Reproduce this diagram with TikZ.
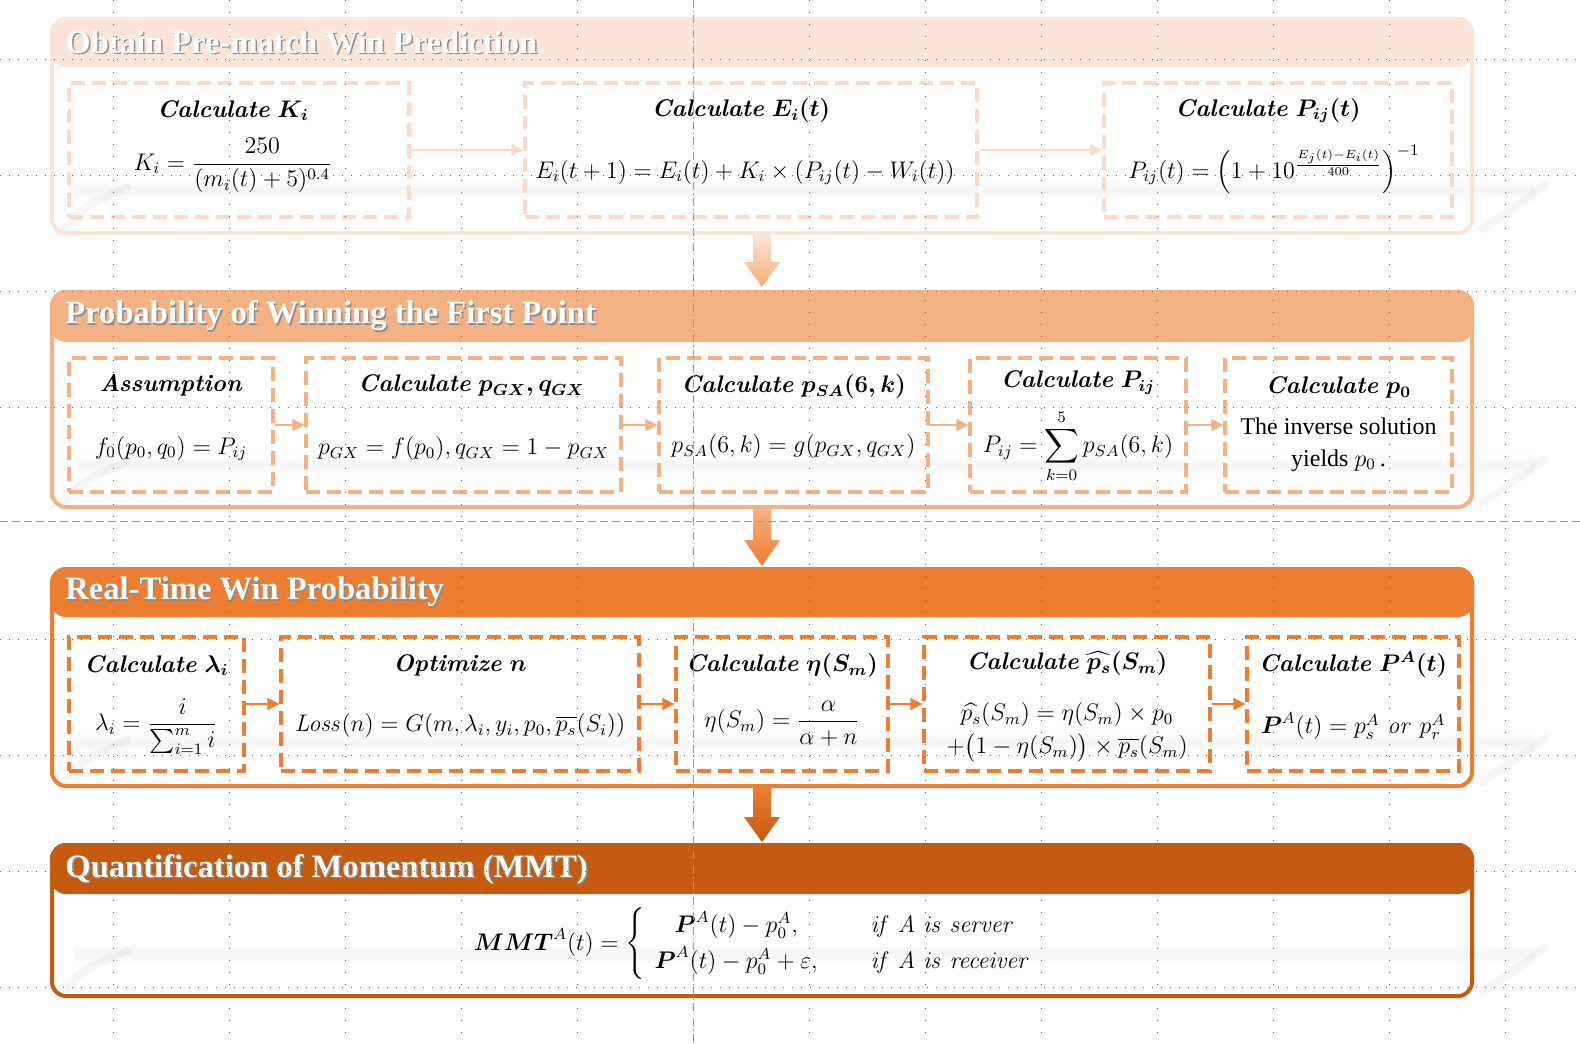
\documentclass[tikz,border=0pt]{standalone}
\usepackage{amsmath,amssymb}
\usepackage[no-math]{fontspec}
\newfontfamily\timesfont{Liberation Serif}
\usetikzlibrary{fit,calc,arrows.meta}

\definecolor{cA}{HTML}{FBE5D6}
\definecolor{cAb}{HTML}{F9DBC8}
\definecolor{cB}{HTML}{F4B183}
\definecolor{cC}{HTML}{ED7D31}
\definecolor{cD}{HTML}{C55A11}
\definecolor{guide}{HTML}{9A9A9A}

\begin{document}
\begin{tikzpicture}[x=0.5pt,y=-0.5pt,
  panel/.style={draw, line width=2pt, rounded corners=7pt, inner sep=0pt},
  hdr/.style={line width=2pt, rounded corners=7pt, inner sep=0pt},
  dbox/.style={draw, line width=1.6pt, dash pattern=on 7pt off 3.5pt, inner sep=0pt},
  ttl/.style={anchor=west, font=\timesfont\bfseries\fontsize{16.3}{19}\selectfont, text=white, inner sep=0pt},
  shd/.style={anchor=west, font=\timesfont\bfseries\fontsize{16.3}{19}\selectfont, text=black!45, inner sep=0pt},
  hd/.style={font=\fontsize{12}{14.4}\selectfont, inner sep=0pt},
  fm/.style={font=\fontsize{12}{14.4}\selectfont, inner sep=0pt, align=center},
  arr/.style={line width=0.8pt, -{Triangle[length=6pt,width=6pt]}},
  hdot/.style={black!60, line width=0.5pt, dash pattern=on 0.5pt off 4pt},
  vdot/.style={black!60, line width=0.5pt, dash pattern=on 0.5pt off 5.5pt},
  pshadow/.style={black, opacity=0.035, line width=4pt, line cap=round},
]
\useasboundingbox (0,0) rectangle (1580,1044);
\fill[white] (0,0) rectangle (1580,1044);

% ================= soft shadows under the panels
\foreach \bt in {233,507,786,996}{
  \shade[top color=white, bottom color=white, middle color=black!3.5] (75,\bt-56) rectangle (1535,\bt-30);
  \draw[pshadow] (64,\bt-4) .. controls (82,\bt-26) .. (128,\bt-46);
  \draw[pshadow] (1482,\bt-4) .. controls (1512,\bt-24) .. (1545,\bt-48);
}

% ================= Panel 1
\node[hdr, fill=cA, draw=cA, fit={(52,19) (1472,65)}] (hd1) {};
\node[panel, draw=cA, fit={(52,19) (1472,233)}] (p1) {};
\node[shd] (t1s) at (66.5,43.5) {Obtain Pre-match Win Prediction};
\node[ttl] (t1) at (65,42) {Obtain Pre-match Win Prediction};

\node[dbox, draw=cAb, fit={(69,83) (409,217)}] (b11) {};
\node[dbox, draw=cAb, fit={(525,83) (977,217)}] (b12) {};
\node[dbox, draw=cAb, fit={(1104,83) (1452,217)}] (b13) {};
\draw[arr, cAb] (b11.east) -- (b12.west);
\draw[arr, cAb] (b12.east) -- (b13.west);

\node[hd] (h11) at ($(b11.north)+(-6,29)$) {\textbf{\textit{Calculate}}~{\boldmath$K_i$}};
\node[fm] (f11) at ($(b11.north)+(-6,84)$) {$K_i=\dfrac{250}{(m_i(t)+5)^{0.4}}$};
\node[hd] (h12) at ($(b12.north)+(-10,29)$) {\textbf{\textit{Calculate}}~{\boldmath$E_i(t)$}};
\node[fm] (f12) at ($(b12.north)+(-6,91)$) {$E_i(t+1)=E_i(t)+K_i\times(P_{ij}(t)-W_i(t))$};
\node[hd] (h13) at ($(b13.north)+(-10,29)$) {\textbf{\textit{Calculate}}~{\boldmath$P_{ij}(t)$}};
\node[fm] (f13) at ($(b13.north)+(-4,88)$) {$P_{ij}(t)=\left(1+10^{\frac{E_j(t)-E_i(t)}{400}}\right)^{-1}$};

% ================= Panel 2
\node[hdr, fill=cB, draw=cB, fit={(52,292) (1472,340)}] (hd2) {};
\node[panel, draw=cB, fit={(52,292) (1472,507)}] (p2) {};
\node[shd] (t2s) at (66.5,317.5) {Probability of Winning the First Point};
\node[ttl] (t2) at (65,316) {Probability of Winning the First Point};

\node[dbox, draw=cB, fit={(69,358) (273,492)}] (b21) {};
\node[dbox, draw=cB, fit={(306,358) (621,492)}] (b22) {};
\node[dbox, draw=cB, fit={(659,358) (928,492)}] (b23) {};
\node[dbox, draw=cB, fit={(970,358) (1186,492)}] (b24) {};
\node[dbox, draw=cB, fit={(1225,358) (1452,492)}] (b25) {};
\draw[arr, cB] (b21.east) -- (b22.west);
\draw[arr, cB] (b22.east) -- (b23.west);
\draw[arr, cB] (b23.east) -- (b24.west);
\draw[arr, cB] (b24.east) -- (b25.west);

\node[hd] (h21) at ($(b21.north)+(0,29)$) {\textbf{\textit{Assumption}}};
\node[fm] (f21) at ($(b21.north)+(0,92)$) {$f_0(p_0,q_0)=P_{ij}$};
\node[hd] (h22) at ($(b22.north)+(8,29)$) {\textbf{\textit{Calculate}}~{\boldmath$p_{GX},q_{GX}$}};
\node[fm] (f22) at ($(b22.north)+(0,92)$) {$p_{GX}=f(p_0),q_{GX}=1-p_{GX}$};
\node[hd] (h23) at ($(b23.north)+(0,30)$) {\textbf{\textit{Calculate}}~{\boldmath$p_{SA}(6,k)$}};
\node[fm] (f23) at ($(b23.north)+(0,90)$) {$p_{SA}(6,k)=g(p_{GX},q_{GX})$};
\node[hd] (h24) at ($(b24.north)+(0,26)$) {\textbf{\textit{Calculate}}~{\boldmath$P_{ij}$}};
\node[fm] (f24) at ($(b24.north)+(0,90)$) {$\displaystyle P_{ij}=\sum_{k=0}^{5}p_{SA}(6,k)$};
\node[hd] (h25) at ($(b25.north)+(0,31)$) {\textbf{\textit{Calculate}}~{\boldmath$p_0$}};
\node[fm, font=\timesfont\fontsize{12}{16}\selectfont] (f25) at ($(b25.north)+(0,88)$) {The inverse solution\\yields $p_0$\,.};

% ================= Panel 3
\node[hdr, fill=cC, draw=cC, fit={(52,569) (1472,615)}] (hd3) {};
\node[panel, draw=cC, fit={(52,569) (1472,786)}] (p3) {};
\node[shd] (t3s) at (66.5,593.5) {Real-Time Win Probability};
\node[ttl] (t3) at (65,592) {Real-Time Win Probability};

\node[dbox, draw=cC, fit={(69,637) (244,771)}] (b31) {};
\node[dbox, draw=cC, fit={(281,637) (639,771)}] (b32) {};
\node[dbox, draw=cC, fit={(676,637) (888,771)}] (b33) {};
\node[dbox, draw=cC, fit={(924,637) (1210,771)}] (b34) {};
\node[dbox, draw=cC, fit={(1247,637) (1459,771)}] (b35) {};
\draw[arr, cC] (b31.east) -- (b32.west);
\draw[arr, cC] (b32.east) -- (b33.west);
\draw[arr, cC] (b33.east) -- (b34.west);
\draw[arr, cC] (b34.east) -- (b35.west);

\node[hd] (h31) at ($(b31.north)+(0,30)$) {\textbf{\textit{Calculate}}~{\boldmath$\lambda_i$}};
\node[fm] (f31) at ($(b31.north)+(0,91)$) {$\lambda_i=\dfrac{i}{\sum_{i=1}^{m}i}$};
\node[hd] (h32) at ($(b32.north)+(0,30)$) {\textbf{\textit{Optimize}}~{\boldmath$n$}};
\node[fm] (f32) at ($(b32.north)+(0,90)$) {$\mathit{Loss}(n)=G(m,\lambda_i,y_i,p_0,\overline{p_s}(S_i))$};
\node[hd] (h33) at ($(b33.north)+(0,30)$) {\textbf{\textit{Calculate}}~{\boldmath$\eta(S_m)$}};
\node[fm] (f33) at ($(b33.north)+(0,88)$) {$\eta(S_m)=\dfrac{\alpha}{\alpha+n}$};
\node[hd] (h34) at ($(b34.north)+(0,28)$) {\textbf{\textit{Calculate}}~{\boldmath$\widehat{p_s}(S_m)$}};
\node[fm] (f34) at ($(b34.north)+(0,97)$) {$\widehat{p_s}(S_m)=\eta(S_m)\times p_0$\\[2pt]$+\bigl(1-\eta(S_m)\bigr)\times\overline{p_s}(S_m)$};
\node[hd] (h35) at ($(b35.north)+(0,29)$) {\textbf{\textit{Calculate}}~{\boldmath$P^A(t)$}};
\node[fm] (f35) at ($(b35.north)+(0,91)$) {$\boldsymbol{P}^A(t)=p_s^A\ \mathit{or}\ p_r^A$};

% ================= Panel 4
\node[hdr, fill=cD, draw=cD, fit={(52,845) (1472,892)}] (hd4) {};
\node[panel, draw=cD, fit={(52,845) (1472,996)}] (p4) {};
\node[shd] (t4s) at (66.5,870.5) {Quantification of Momentum (MMT)};
\node[ttl] (t4) at (65,869) {Quantification of Momentum (MMT)};

\node[fm] (f41) at ($(p4.north)+(-4,101)$) {$\boldsymbol{MMT}^A(t)=\left\{\begin{array}{c@{\hspace{2.2em}}l}
  \boldsymbol{P}^A(t)-p_0^A, & \mathit{if\ A\ is\ server}\\[3pt]
  \boldsymbol{P}^A(t)-p_0^A+\varepsilon, & \mathit{if\ A\ is\ receiver}
\end{array}\right.$};

% ================= block arrows between panels
\shade[top color=cA, bottom color=cB!90!orange] let \p1=(p1.south), \p2=(p2.north) in
  (\x1-4.5pt,\y1) -- (\x1+4.5pt,\y1) -- (\x1+4.5pt,\y2+14pt) -- (\x1+9pt,\y2+14pt)
  -- (\x1,\y2+1.5pt) -- (\x1-9pt,\y2+14pt) -- (\x1-4.5pt,\y2+14pt) -- cycle;
\shade[top color=cB, bottom color=cC] let \p1=(p2.south), \p2=(p3.north) in
  (\x1-4.5pt,\y1) -- (\x1+4.5pt,\y1) -- (\x1+4.5pt,\y2+13.5pt) -- (\x1+9pt,\y2+13.5pt)
  -- (\x1,\y2+0.5pt) -- (\x1-9pt,\y2+13.5pt) -- (\x1-4.5pt,\y2+13.5pt) -- cycle;
\shade[top color=cC, bottom color=cD] let \p1=(p3.south), \p2=(p4.north) in
  (\x1-4.5pt,\y1) -- (\x1+4.5pt,\y1) -- (\x1+4.5pt,\y2+13pt) -- (\x1+9pt,\y2+13pt)
  -- (\x1,\y2+0.5pt) -- (\x1-9pt,\y2+13pt) -- (\x1-4.5pt,\y2+13pt) -- cycle;

% ================= guides
\foreach \yy in {59,175,291,407,639,755,871,987}
  \draw[hdot] (0,\yy) -- (1580,\yy);
\foreach \xx in {113,229,345,461,577,809,925,1041,1157,1273,1389,1505}
  \draw[vdot] (\xx,0) -- (\xx,1044);
\draw[guide, line width=0.5pt, dash pattern=on 4pt off 2pt] (0,521) -- (1580,521);
\draw[guide, line width=0.5pt, dash pattern=on 4pt off 1.5pt on 0.6pt off 1.5pt] (693,0) -- (693,1044);
\end{tikzpicture}
\end{document}
